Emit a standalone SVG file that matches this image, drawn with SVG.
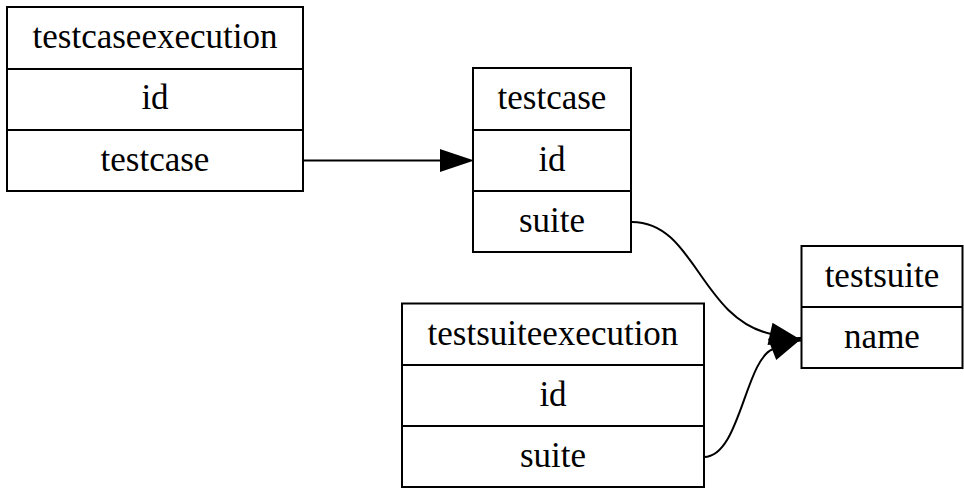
<svg xmlns="http://www.w3.org/2000/svg" width="964" height="489" viewBox="0 0 964 489">
<style>
.box{fill:#fff;stroke:#000;stroke-width:2}
.sep{stroke:#000;stroke-width:2}
text{font-size:35px;text-anchor:middle;fill:#000}
.edge{fill:none;stroke:#000;stroke-width:2}
</style>
<defs>
<marker id="arr" markerUnits="userSpaceOnUse" markerWidth="32" markerHeight="22" viewBox="-1 -1 32 22" refX="0" refY="10" orient="auto" overflow="visible">
<path d="M0,0 L30,10 L0,20 z" fill="#000" stroke="#000" stroke-width="2"/>
</marker>
</defs>
<rect width="964" height="489" fill="#fff"/>
<g id="edges">
<path class="edge" d="M303,160.5 L441,160.5" marker-end="url(#arr)"/>
<path class="edge" d="M632,222 C695,222 700,318 771,334" marker-end="url(#arr)"/>
<path class="edge" d="M704,457 C740,457 745,360 773,349" marker-end="url(#arr)"/>
</g>
<g font-family="Liberation Serif, Times New Roman, DejaVu Serif, serif">
<g id="testcaseexecution">
<rect class="box" x="7" y="7" width="296" height="184"/>
<line class="sep" x1="7" y1="69" x2="303" y2="69"/>
<line class="sep" x1="7" y1="130" x2="303" y2="130"/>
<text x="155" y="48">testcaseexecution</text>
<text x="155" y="109">id</text>
<text x="155" y="171">testcase</text>
</g>
<g id="testcase">
<rect class="box" x="473" y="68" width="158" height="184"/>
<line class="sep" x1="473" y1="130" x2="631" y2="130"/>
<line class="sep" x1="473" y1="191" x2="631" y2="191"/>
<text x="552" y="109">testcase</text>
<text x="552" y="171">id</text>
<text x="552" y="232">suite</text>
</g>
<g id="testsuite">
<rect class="box" x="801.5" y="246" width="161" height="122"/>
<line class="sep" x1="801.5" y1="307" x2="962.5" y2="307"/>
<text x="882" y="287">testsuite</text>
<text x="882" y="348">name</text>
</g>
<g id="testsuiteexecution">
<rect class="box" x="402" y="303.5" width="302" height="183.5"/>
<line class="sep" x1="402" y1="365" x2="704" y2="365"/>
<line class="sep" x1="402" y1="426" x2="704" y2="426"/>
<text x="553" y="345">testsuiteexecution</text>
<text x="553" y="406">id</text>
<text x="553" y="467">suite</text>
</g>
</g>
</svg>
